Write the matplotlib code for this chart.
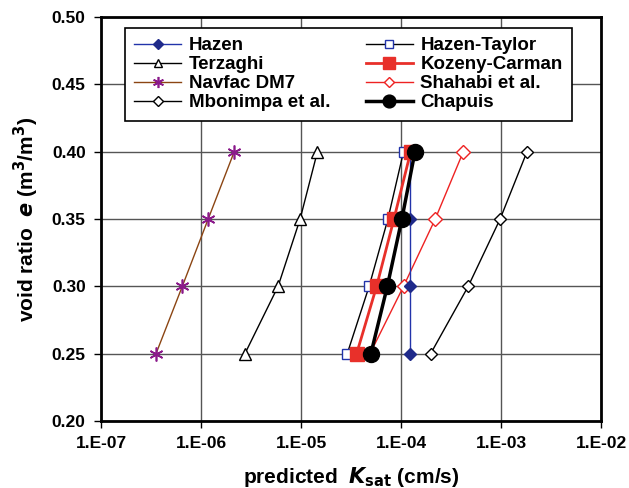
import math
import matplotlib
matplotlib.use('Agg')
import matplotlib.pyplot as plt
from matplotlib.ticker import FixedLocator, FuncFormatter

plt.rcParams['font.family'] = ['Liberation Sans', 'DejaVu Sans']
plt.rcParams['font.weight'] = 'bold'

# void ratio levels
e = [0.25, 0.30, 0.35, 0.40]

# predicted Ksat (cm/s)
hazen = [1.22e-4, 1.22e-4, 1.22e-4, 1.22e-4]
hazen_taylor = [2.9e-5, 4.8e-5, 7.4e-5, 1.06e-4]
terzaghi = [2.75e-6, 5.9e-6, 9.8e-6, 1.46e-5]
kozeny = [3.6e-5, 5.7e-5, 8.5e-5, 1.25e-4]
navfac = [3.55e-7, 6.5e-7, 1.18e-6, 2.15e-6]
shahabi = [4.9e-5, 1.06e-4, 2.2e-4, 4.2e-4]
mbonimpa = [1.98e-4, 4.7e-4, 9.8e-4, 1.82e-3]
chapuis = [5.0e-5, 7.3e-5, 1.02e-4, 1.38e-4]

xticks = [1e-7, 1e-6, 1e-5, 1e-4, 1e-3, 1e-2]
yticks = [0.20, 0.25, 0.30, 0.35, 0.40, 0.45, 0.50]

fig = plt.figure(figsize=(6.29, 4.88), dpi=100)
ax = fig.add_axes([101 / 629, 67 / 488, 500 / 629, 404 / 488])

# plotting order roughly matches the layering in the figure
ax.plot(navfac, e, color='#8B4513', lw=1, marker=(6, 2, 0), ms=10, mec='#8B1A8B', mew=1.2, label='Navfac DM7')
ax.plot(terzaghi, e, color='black', lw=1, marker='^', ms=8, mfc='white', mec='black', label='Terzaghi')
ax.plot(mbonimpa, e, color='black', lw=1, marker='D', ms=6, mfc='white', mec='black', label='Mbonimpa et al.')
ax.plot(shahabi, e, color='#EE2222', lw=1, marker='D', ms=7, mfc='white', mec='#EE2222', label='Shahabi et al.')
ax.plot(hazen_taylor, e, color='black', lw=1, marker='s', ms=7, mfc='white', mec='#2233AA', label='Hazen-Taylor')
ax.plot(hazen, e, color='#2233AA', lw=1, marker='D', ms=6, mfc='#1F2A8A', mec='#1F2A8A', label='Hazen')
ax.plot(kozeny, e, color='#E8302A', lw=2, marker='s', ms=10.5, mfc='#E8302A', mec='#E8302A', label='Kozeny-Carman')
ax.plot(chapuis, e, color='black', lw=2.5, marker='o', ms=11.5, mfc='black', mec='black', label='Chapuis')

ax.set_xscale('log')
ax.set_xlim(1e-7, 1e-2)
ax.set_ylim(0.20, 0.50)
ax.xaxis.set_major_locator(FixedLocator(xticks))
ax.xaxis.set_minor_locator(FixedLocator([]))
ax.xaxis.set_major_formatter(FuncFormatter(lambda v, p: '1.E-%02d' % round(-math.log10(v))))
ax.set_yticks(yticks)
ax.yaxis.set_major_formatter(FuncFormatter(lambda v, p: '%.2f' % v))
ax.tick_params(labelsize=12.5, length=5, width=1, direction='out', pad=6)
ax.grid(True, color='#555555', lw=1)
for s in ax.spines.values():
    s.set_linewidth(2)

ax.set_xlabel(r'predicted  $\boldsymbol{K}_{\mathbf{sat}}$ (cm/s)', fontsize=15, fontweight='bold', labelpad=10)
ax.set_ylabel(r'void ratio  $\boldsymbol{e}$ (m$^\mathbf{3}$/m$^\mathbf{3}$)', fontsize=15, fontweight='bold', labelpad=8)

handles, labels = ax.get_legend_handles_labels()
order = ['Hazen', 'Terzaghi', 'Navfac DM7', 'Mbonimpa et al.',
         'Hazen-Taylor', 'Kozeny-Carman', 'Shahabi et al.', 'Chapuis']
hmap = dict(zip(labels, handles))
leg = ax.legend([hmap[k] for k in order], order, ncol=2, loc='upper center',
                bbox_to_anchor=(0.495, 0.973), borderaxespad=0, fontsize=13.5, frameon=True,
                fancybox=False, edgecolor='black', framealpha=1, borderpad=0.5,
                labelspacing=0.1, handlelength=2.5, columnspacing=1.9, handletextpad=0.4,
                markerscale=0.8)
leg.get_frame().set_linewidth(1.2)

plt.savefig('out.png', dpi=100)
